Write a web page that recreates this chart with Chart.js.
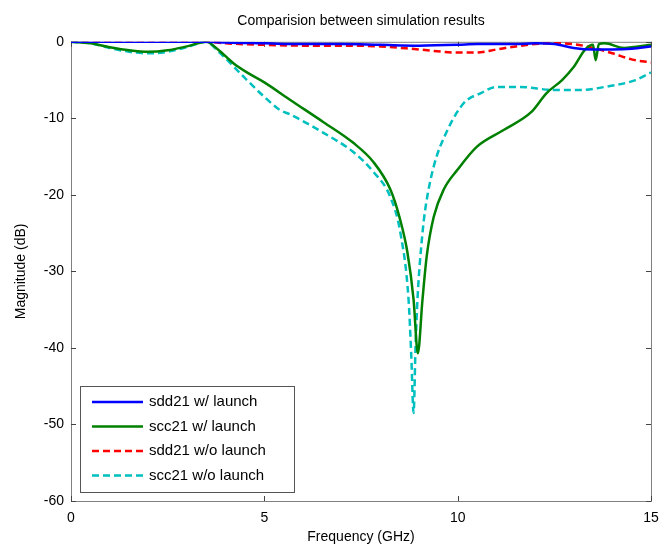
<!DOCTYPE html>
<html lang="en">
<head>
    <meta charset="UTF-8">
    <title>Comparision between simulation results</title>
    <script src="https://cdn.jsdelivr.net/npm/chart.js"></script>
    <style>
        html, body { margin: 0; padding: 0; background: #fff; }
        canvas { display: block; }
    </style>
</head>
<body>
    <canvas id="chartSim" width="662" height="549"></canvas>

    <script>
    // frequency (GHz) and magnitude (dB) for each curve
    const freqSddW = [0, 1, 2, 3, 3.5, 4, 5, 6, 7, 8, 9, 10, 10.5, 11, 11.5, 12, 12.5, 13, 13.5, 14, 14.5, 15];
    const magSddW  = [0, 0, 0, 0, 0, -0.1, -0.2, -0.3, -0.3, -0.4, -0.5, -0.4, -0.3, -0.3, -0.3, -0.2, -0.3, -0.8, -1.0, -1.0, -0.9, -0.6];

    const freqSccW = [0, 0.5, 1, 1.5, 2, 2.5, 3, 3.5, 3.8, 4.2, 4.55, 5, 5.67, 6.53, 7.3, 7.82, 8.26, 8.5, 8.7, 8.86, 8.97, 9.09, 9.2, 9.38, 9.64, 10, 10.5, 11.2, 11.9, 12.3, 12.7, 13, 13.3, 13.5, 13.57, 13.65, 13.8, 14.3, 15];
    const magSccW  = [0, -0.2, -0.7, -1.1, -1.3, -1.1, -0.6, 0, -1.0, -2.8, -4.0, -5.3, -7.6, -10.5, -13.2, -15.7, -19.3, -23, -27.5, -33.7, -40.7, -33.7, -28, -22.9, -19.3, -16.7, -13.7, -11.5, -9.2, -6.7, -5.0, -3.3, -1.0, -0.4, -2.4, -0.3, -0.2, -0.8, -0.4];

    const freqSddWo = [0, 1, 2, 3, 3.5, 4, 5, 6, 7, 8, 9, 10, 10.5, 11, 11.5, 12, 12.5, 13, 13.5, 14, 14.5, 15];
    const magSddWo  = [0, 0, 0, 0, 0, -0.2, -0.4, -0.5, -0.5, -0.6, -1.0, -1.4, -1.4, -1.0, -0.6, -0.3, -0.2, -0.3, -0.8, -1.5, -2.3, -2.7];

    const freqSccWo = [0, 0.5, 1, 1.5, 2, 2.5, 3, 3.5, 3.8, 4.2, 4.55, 5, 5.4, 5.67, 6.53, 7.3, 7.82, 8.26, 8.52, 8.73, 8.8, 8.86, 8.91, 8.96, 9.09, 9.17, 9.38, 9.74, 10.16, 10.6, 11, 11.6, 12.5, 13.2, 13.8, 14.6, 15];
    const magSccWo  = [0, -0.2, -0.8, -1.3, -1.5, -1.3, -0.7, 0, -1.2, -3.2, -5.0, -7.2, -8.9, -9.5, -11.9, -14.4, -17, -20.3, -25, -33.7, -41, -48.5, -40, -33.7, -25, -21.6, -16.3, -11.5, -8.0, -6.7, -5.9, -5.9, -6.3, -6.3, -5.9, -5.0, -4.0];

    const seriesLabels = ['sdd21 w/ launch', 'scc21 w/ launch', 'sdd21 w/o launch', 'scc21 w/o launch'];
    const xTicks = [0, 5, 10, 15];
    const yTicks = [-60, -50, -40, -30, -20, -10, 0];

    const toPoints = (xs, ys) => xs.map((x, i) => ({ x: x, y: ys[i] }));

    // MATLAB-like box with inward ticks
    const axesBox = {
        id: 'axesBox',
        beforeDatasetsDraw(chart) {
            const { ctx, chartArea: a, scales } = chart;
            ctx.save();
            ctx.strokeStyle = '#808080';
            ctx.lineWidth = 1;
            ctx.strokeRect(a.left + 0.5, a.top + 0.5, a.right - a.left, a.bottom - a.top);
            ctx.strokeStyle = '#444';
            ctx.beginPath();
            xTicks.forEach(v => {
                const px = Math.round(scales.x.getPixelForValue(v)) + 0.5;
                ctx.moveTo(px, a.bottom); ctx.lineTo(px, a.bottom - 5);
                ctx.moveTo(px, a.top); ctx.lineTo(px, a.top + 5);
            });
            yTicks.forEach(v => {
                const py = Math.round(scales.y.getPixelForValue(v)) + 0.5;
                ctx.moveTo(a.left, py); ctx.lineTo(a.left + 5, py);
                ctx.moveTo(a.right, py); ctx.lineTo(a.right - 5, py);
            });
            ctx.stroke();
            ctx.restore();
        },
        afterDraw(chart) {
            // legend box inside the plot, lower left
            const { ctx, chartArea: a } = chart;
            const x0 = a.left + 9, y0 = 386, w = 214, h = 106;
            ctx.save();
            ctx.fillStyle = '#fff';
            ctx.fillRect(x0, y0, w, h);
            ctx.strokeStyle = '#555';
            ctx.lineWidth = 1;
            ctx.strokeRect(x0 + 0.5, y0 + 0.5, w, h);
            ctx.font = '15px "Liberation Sans", Arial, sans-serif';
            ctx.textBaseline = 'middle';
            chart.data.datasets.forEach((ds, i) => {
                const y = y0 + 16 + i * 24.5;
                ctx.strokeStyle = ds.borderColor;
                ctx.lineWidth = ds.borderWidth;
                ctx.setLineDash(ds.borderDash || []);
                ctx.beginPath();
                ctx.moveTo(x0 + 12, y); ctx.lineTo(x0 + 63, y);
                ctx.stroke();
                ctx.setLineDash([]);
                ctx.fillStyle = '#000';
                ctx.fillText(ds.label, x0 + 69, y);
            });
            ctx.restore();
        }
    };

    const ctxSim = document.getElementById('chartSim').getContext('2d');
    new Chart(ctxSim, {
        type: 'line',
        data: {
            datasets: [
                { label: seriesLabels[0], data: toPoints(freqSddW, magSddW), borderColor: '#0000ff', borderWidth: 2.5 },
                { label: seriesLabels[1], data: toPoints(freqSccW, magSccW), borderColor: '#008000', borderWidth: 2.5 },
                { label: seriesLabels[2], data: toPoints(freqSddWo, magSddWo), borderColor: '#ff0000', borderWidth: 2.5, borderDash: [7, 4] },
                { label: seriesLabels[3], data: toPoints(freqSccWo, magSccWo), borderColor: '#00bfbf', borderWidth: 2.5, borderDash: [7, 4] }
            ]
        },
        options: {
            responsive: false,
            animation: false,
            layout: { padding: { left: 0, right: 11, top: 0, bottom: 0 } },
            elements: {
                point: { radius: 0 },
                line: { cubicInterpolationMode: 'monotone', fill: false }
            },
            plugins: {
                legend: { display: false },
                tooltip: { enabled: false },
                title: {
                    display: true,
                    text: 'Comparision between simulation results',
                    fullSize: false,
                    color: '#000',
                    font: { family: '"Liberation Sans", Arial, sans-serif', size: 14, weight: 'normal' },
                    padding: { top: 13, bottom: 12 }
                }
            },
            scales: {
                x: {
                    type: 'linear',
                    min: 0, max: 15,
                    afterBuildTicks: s => { s.ticks = xTicks.map(v => ({ value: v })); },
                    afterFit: s => { s.height = 48; s.paddingLeft = 0; s.paddingRight = 0; },
                    grid: { display: false, drawTicks: false },
                    border: { display: false },
                    ticks: { color: '#000', padding: 9, maxRotation: 0, font: { family: '"Liberation Sans", Arial, sans-serif', size: 14 } },
                    title: {
                        display: true, text: 'Frequency (GHz)', color: '#000',
                        font: { family: '"Liberation Sans", Arial, sans-serif', size: 14 },
                        padding: { top: 0, bottom: 3 }
                    }
                },
                y: {
                    min: -60, max: 0,
                    afterBuildTicks: s => { s.ticks = yTicks.map(v => ({ value: v })); },
                    afterFit: s => { s.width = 71; },
                    grid: { display: false, drawTicks: false },
                    border: { display: false },
                    ticks: { color: '#000', padding: 7, font: { family: '"Liberation Sans", Arial, sans-serif', size: 14 } },
                    title: {
                        display: true, text: 'Magnitude (dB)', color: '#000',
                        font: { family: '"Liberation Sans", Arial, sans-serif', size: 14 },
                        padding: { top: 13, bottom: 0 }
                    }
                }
            }
        },
        plugins: [axesBox]
    });
    </script>
</body>
</html>
